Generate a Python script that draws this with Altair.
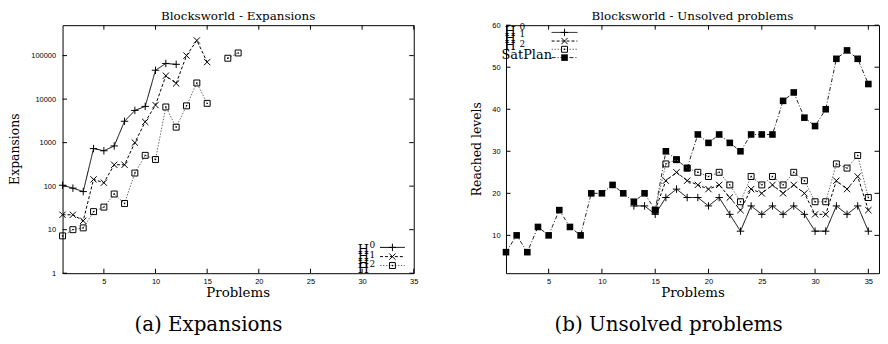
import altair as alt
import pandas as pd

# ---------------- data : (a) Expansions (log scale) ----------------
exp_h0_x = [1, 2, 3, 4, 5, 6, 7, 8, 9, 10, 11, 12]
exp_h0_y = [105, 90, 75, 730, 650, 840, 3100, 5500, 6800, 46000, 66000, 63000]
exp_h1_x = [1, 2, 3, 4, 5, 6, 7, 8, 9, 10, 11, 12, 13, 14, 15]
exp_h1_y = [22, 22, 16, 143, 120, 310, 310, 1000, 3000, 7300, 34500, 23000, 100000, 223000, 71000]
exp_h2_x = [1, 2, 3, 4, 5, 6, 7, 8, 9, 10, 11, 12, 13, 14, 15, 17, 18]
exp_h2_y = [7.2, 10, 11, 26, 33, 66, 40, 200, 510, 410, 6600, 2270, 7000, 23500, 8000, 87000, 115000]
exp_xticks = [5, 10, 15, 20, 25, 30, 35]
exp_yticks = [1, 10, 100, 1000, 10000, 100000]

# ---------------- data : (b) Unsolved problems ----------------
uns_sat_x = list(range(1, 36))
uns_sat_y = [6, 10, 6, 12, 10, 16, 12, 10, 20, 20, 22, 20, 18, 20, 16, 30, 28, 26, 34, 32,
             34, 32, 30, 34, 34, 34, 42, 44, 38, 36, 40, 52, 54, 52, 46]
uns_h0_x = list(range(13, 36))
uns_h0_y = [17, 17, 15, 19, 21, 19, 19, 17, 19, 15, 11, 17, 15, 17, 15, 17, 15, 11, 11, 17, 15, 17, 11]
uns_h1_x = list(range(15, 36))
uns_h1_y = [16, 23, 25, 23, 22, 21, 22, 19, 16, 21, 20, 22, 20, 22, 20, 15, 15, 23, 21, 24, 16]
uns_h2_x = list(range(15, 36))
uns_h2_y = [16, 27, 28, 26, 25, 24, 25, 22, 18, 24, 22, 24, 22, 25, 23, 18, 18, 27, 26, 29, 19]
uns_xticks = [5, 10, 15, 20, 25, 30, 35]
uns_yticks = [10, 20, 30, 40, 50, 60]

SERIF = "DejaVu Serif"
PLUS = "M-1,0H1M0,-1V1"
CROSS = "M-1,-1L1,1M1,-1L-1,1"
STY = {
    "H0": dict(color="black", dash=[1, 0], shape=PLUS, size=56, filled=False, dot=False),
    "H1": dict(color="black", dash=[3, 2], shape=CROSS, size=40, filled=False, dot=False),
    "H2": dict(color="#6a6a6a", dash=[1.5, 1.5], shape="square", size=36, filled=False, dot=True),
    "SatPlan": dict(color="#222222", dash=[4, 2, 1, 2], shape="square", size=44, filled=True, dot=False),
}


def frame(xs, ys):
    seg, s = [], 0
    for i, x in enumerate(xs):
        if i > 0 and x - xs[i - 1] > 1:
            s += 1
        seg.append(s)
    return pd.DataFrame({"problem": xs, "value": ys, "seg": seg})


dummy = pd.DataFrame({"a": [0]})


def text(t, x, y, size, align="center", baseline="alphabetic", angle=0):
    kw = dict(text=t, font=SERIF, fontSize=size, align=align, baseline=baseline, color="black")
    if angle:
        kw["angle"] = angle
    return alt.Chart(dummy).mark_text(**kw).encode(x=alt.value(x), y=alt.value(y))


def series_layers(name, df, X, Y):
    st = STY[name]
    out = [
        alt.Chart(df).mark_line(color=st["color"], strokeDash=st["dash"], strokeWidth=1).encode(
            x=X, y=Y, detail="seg:N"),
        alt.Chart(df).mark_point(shape=st["shape"], size=st["size"], filled=st["filled"],
                                 color="black", strokeWidth=1, opacity=1).encode(x=X, y=Y),
    ]
    if st["dot"]:
        out.append(alt.Chart(df).mark_point(shape="square", size=2, filled=True, color="black",
                                            opacity=1).encode(x=X, y=Y))
    return out


def legend_entry(name, x0, x1, y):
    st = STY[name]
    out = [
        alt.Chart(dummy).mark_rule(color=st["color"], strokeDash=st["dash"], strokeWidth=1).encode(
            x=alt.value(x0), x2=alt.value(x1), y=alt.value(y)),
        alt.Chart(dummy).mark_point(shape=st["shape"], size=st["size"], filled=st["filled"],
                                    color="black", strokeWidth=1, opacity=1).encode(
            x=alt.value((x0 + x1) / 2), y=alt.value(y)),
    ]
    if st["dot"]:
        out.append(alt.Chart(dummy).mark_point(shape="square", size=2, filled=True, color="black",
                                               opacity=1).encode(x=alt.value((x0 + x1) / 2), y=alt.value(y)))
    return out


def tick_layers(xticks, yticks, X, Y, W, H, L=4.5):
    dx = pd.DataFrame({"problem": xticks})
    dy = pd.DataFrame({"value": yticks})
    r = dict(color="black", strokeWidth=1)
    return [
        alt.Chart(dx).mark_rule(**r).encode(x=X, y=alt.value(H), y2=alt.value(H - L)),
        alt.Chart(dx).mark_rule(**r).encode(x=X, y=alt.value(0), y2=alt.value(L)),
        alt.Chart(dy).mark_rule(**r).encode(y=Y, x=alt.value(0), x2=alt.value(L)),
        alt.Chart(dy).mark_rule(**r).encode(y=Y, x=alt.value(W), x2=alt.value(W - L)),
    ]


TITLE_Y = -14.5

# ---------------- panel (a) ----------------
WA, HA = 354, 250
XA = alt.X("problem:Q", title=None,
           scale=alt.Scale(domain=[1, 35], nice=False, zero=False),
           axis=alt.Axis(values=exp_xticks, format="d", labelPadding=4))
YA = alt.Y("value:Q", title=None,
           scale=alt.Scale(type="log", domain=[1, 500000], nice=False),
           axis=alt.Axis(values=exp_yticks, format="d", labelPadding=7))

layers_a = [
    alt.Chart(dummy).mark_rule(color="white", strokeWidth=1).encode(
        x=alt.value(-53.5), y=alt.value(-14.5), y2=alt.value(-14)),
]
layers_a += tick_layers(exp_xticks, exp_yticks, XA, YA, WA, HA)
layers_a += series_layers("H2", frame(exp_h2_x, exp_h2_y), XA, YA)
layers_a += series_layers("H1", frame(exp_h1_x, exp_h1_y), XA, YA)
layers_a += series_layers("H0", frame(exp_h0_x, exp_h0_y), XA, YA)
layers_a += [
    text("Blocksworld - Expansions", WA / 2, TITLE_Y, 12, baseline="top"),
    text("Expansions", -47.5, HA / 2, 12.5, baseline="middle", angle=270),
    text("Problems", WA / 2, 274, 13.5),
    text("(a) Expansions", 147, 308, 20),
]
# legend (a)
leg_rows_a = [224, 233.3, 242.3]
for nm, ry in zip(["H0", "H1", "H2"], leg_rows_a):
    layers_a += legend_entry(nm, 320, 345, ry)
for hb in [230.5, 237.5, 244.5, 250]:
    layers_a.append(text("H", 297.5, hb, 13, align="left"))
for d, ry in zip(["0", "1", "2"], leg_rows_a):
    layers_a.append(text(d, 309.5, ry + 1, 9, align="left"))

panel_a = alt.layer(*layers_a).properties(width=WA, height=HA)

# ---------------- panel (b) ----------------
WB, HB = 376, 250
XB = alt.X("problem:Q", title=None,
           scale=alt.Scale(domain=[1, 36], nice=False, zero=False),
           axis=alt.Axis(values=uns_xticks, format="d", labelPadding=4))
YB = alt.Y("value:Q", title=None,
           scale=alt.Scale(domain=[1, 60], nice=False, zero=False),
           axis=alt.Axis(values=uns_yticks, format="d", labelPadding=6))

layers_b = tick_layers(uns_xticks, uns_yticks, XB, YB, WB, HB)
layers_b += series_layers("SatPlan", frame(uns_sat_x, uns_sat_y), XB, YB)
layers_b += series_layers("H2", frame(uns_h2_x, uns_h2_y), XB, YB)
layers_b += series_layers("H1", frame(uns_h1_x, uns_h1_y), XB, YB)
layers_b += series_layers("H0", frame(uns_h0_x, uns_h0_y), XB, YB)
layers_b += [
    text("Blocksworld - Unsolved problems", WB / 2, TITLE_Y, 12, baseline="top"),
    text("Reached levels", -29, HB / 2, 12.5, baseline="middle", angle=270),
    text("Problems", 188.5, 274, 13.5),
    text("(b) Unsolved problems", 164, 308, 20),
]
leg_rows_b = [7.3, 16, 24.3, 32.7]
for nm, ry in zip(["H0", "H1", "H2", "SatPlan"], leg_rows_b):
    layers_b += legend_entry(nm, 46, 72, ry)
for hb in [10.5, 18, 25.5]:
    layers_b.append(text("H", -1.5, hb, 13, align="left"))
for d, yb in zip(["0", "1", "2"], [4.5, 12, 21.5]):
    layers_b.append(text(d, 13.5, yb, 9, align="left"))
layers_b.append(text("SatPlan", -4.5, 34, 13, align="left"))

panel_b = alt.layer(*layers_b).properties(width=WB, height=HB)

chart = alt.hconcat(panel_a, panel_b, spacing=93, bounds="flush", padding=0).configure_view(
    stroke="black", strokeWidth=1
).configure_axis(
    domain=False, ticks=False, grid=False, labelFont="Liberation Sans", labelFontSize=7.5,
    labelColor="black", labelFlush=False, labelOverlap=False
)

chart.save("out.html", embed_options={"renderer": "svg", "actions": False})
